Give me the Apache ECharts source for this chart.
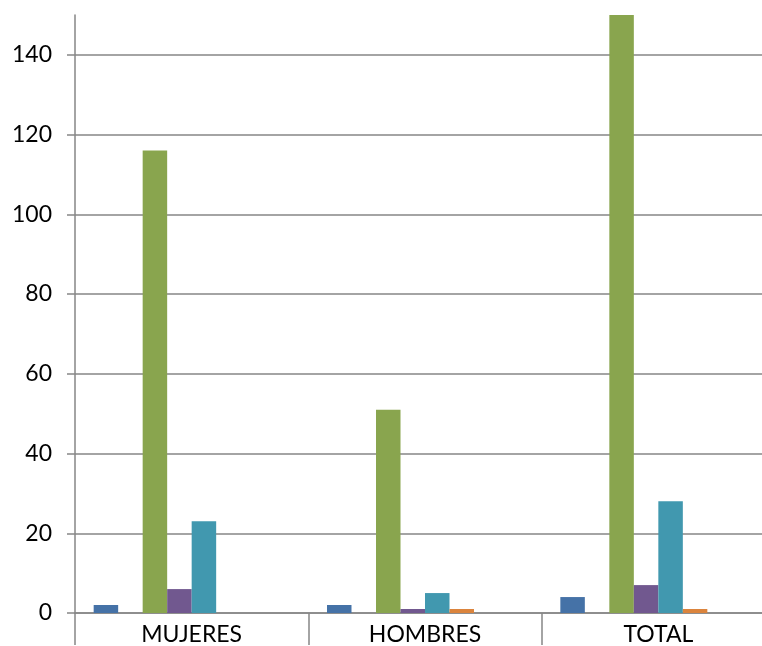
<!DOCTYPE html>
<html>
<head>
<meta charset="utf-8">
<script src="https://cdn.jsdelivr.net/npm/echarts@6/dist/echarts.min.js"></script>
<style>
  html, body { margin: 0; padding: 0; background: #fff; overflow: hidden; }
  #chart { width: 775px; height: 646px; }
</style>
</head>
<body>
<div id="chart"></div>
<script>
// categorias del eje x
const categories = ['MUJERES', 'HOMBRES', 'TOTAL'];
// marcas del eje y
const yTicks = [0, 20, 40, 60, 80, 100, 120, 140];

// series (8 en la hoja, varias en cero)
const serie1 = [2, 2, 4];
const serie2 = [0, 0, 0];
const serie3 = [116, 51, 167];
const serie4 = [6, 1, 7];
const serie5 = [23, 5, 28];
const serie6 = [0, 1, 1];
const serie7 = [0, 0, 0];
const serie8 = [0, 0, 0];

const allSeries = [serie1, serie2, serie3, serie4, serie5, serie6, serie7, serie8];
const colors = ['#4572A7', '#AA4643', '#89A54E', '#71588F', '#4198AF', '#DB843D', '#93A9CF', '#D19392'];

const axisColor = '#868686';
const font = 'Lato, "Open Sans", sans-serif';

const chart = echarts.init(document.getElementById('chart'));

const option = {
    animation: false,
    grid: {
        left: 75,
        right: 0,
        top: 15,
        bottom: 32,
        containLabel: false
    },
    xAxis: {
        type: 'category',
        data: categories,
        boundaryGap: true,
        axisLine: { lineStyle: { color: axisColor, width: 1.5 } },
        axisTick: { show: true, length: 32, lineStyle: { color: axisColor, width: 1.5 } },
        axisLabel: { color: '#000', fontSize: 23, fontFamily: font, margin: 10 }
    },
    yAxis: {
        type: 'value',
        min: 0,
        max: 150,
        interval: 20,
        axisLine: { show: true, lineStyle: { color: axisColor, width: 1.5 } },
        axisTick: { show: true, length: 8, lineStyle: { color: axisColor, width: 1.5 } },
        axisLabel: {
            color: '#000', fontSize: 23, fontFamily: font, margin: 23,
            showMaxLabel: false,
            formatter: (v) => (yTicks.includes(v) ? String(v) : '')
        },
        splitLine: { show: true, showMaxLine: false, lineStyle: { color: axisColor, width: 1.5 } }
    },
    series: allSeries.map((d, i) => ({
        type: 'bar',
        data: d,
        barGap: 0,
        barCategoryGap: '16%',
        clip: true,
        itemStyle: { color: colors[i] }
    }))
};

chart.setOption(option);
</script>
</body>
</html>
